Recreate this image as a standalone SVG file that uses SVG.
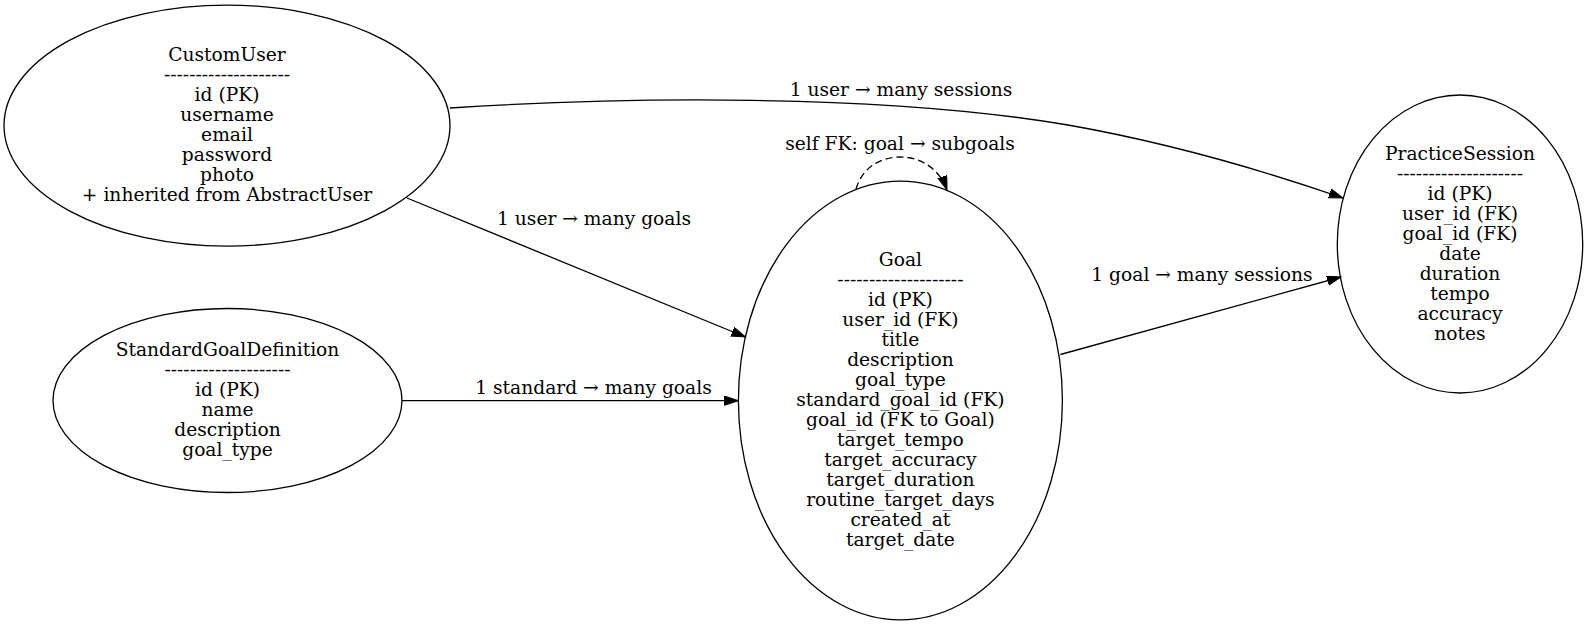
<svg xmlns="http://www.w3.org/2000/svg" width="1588" height="626" viewBox="0 0 1588 626">
<style>
  text { font-family: "DejaVu Serif", "Liberation Serif", serif; font-size: 18.67px; fill: #000; text-anchor: middle; }
  .node ellipse { fill: none; stroke: #000; stroke-width: 1.3; }
  .edge { fill: none; stroke: #000; stroke-width: 1.3; }
  .dashed { stroke-dasharray: 7,4; }
</style>
<defs>
  <marker id="arrow" markerUnits="userSpaceOnUse" markerWidth="16" markerHeight="12" refX="14" refY="4.67" orient="auto">
    <path d="M0,0 L14,4.67 L0,9.33 Z" fill="#000" stroke="#000" stroke-width="1" stroke-dasharray="none"/>
  </marker>
</defs>
<rect width="1588" height="626" fill="#fff"/>

<g id="connectors">
  <path class="edge" d="M450,108 C620,97 880,93 1068,125 C1170,143 1262,170 1343,198" marker-end="url(#arrow)"/>
  <text x="901" y="96">1 user → many sessions</text>

  <path class="edge" d="M407,198 L745.4,337" marker-end="url(#arrow)"/>
  <text x="594" y="225">1 user → many goals</text>

  <path class="edge" d="M402,400.7 L738.4,400.7" marker-end="url(#arrow)"/>
  <text x="593.5" y="394">1 standard → many goals</text>

  <path class="edge" d="M1060.4,354.5 L1341,277" marker-end="url(#arrow)"/>
  <text x="1202" y="281">1 goal → many sessions</text>

  <path class="edge dashed" d="M856,189 C862,168 880,157 900,157 C922,157 940,170 947,190" marker-end="url(#arrow)"/>
  <text x="900" y="150">self FK: goal → subgoals</text>
</g>

<g id="CustomUser" class="node">
  <ellipse cx="227" cy="125.6" rx="223" ry="120.5"/>
  <text x="227" y="61">CustomUser</text>
  <text x="227" y="81">--------------------</text>
  <text x="227" y="101">id (PK)</text>
  <text x="227" y="121">username</text>
  <text x="227" y="141">email</text>
  <text x="227" y="161">password</text>
  <text x="227" y="181">photo</text>
  <text x="227" y="201">+ inherited from AbstractUser</text>
</g>

<g id="StandardGoalDefinition" class="node">
  <ellipse cx="227.5" cy="400.5" rx="174.5" ry="92"/>
  <text x="227.5" y="356">StandardGoalDefinition</text>
  <text x="227.5" y="376">--------------------</text>
  <text x="227.5" y="396">id (PK)</text>
  <text x="227.5" y="416">name</text>
  <text x="227.5" y="436">description</text>
  <text x="227.5" y="456">goal_type</text>
</g>

<g id="Goal" class="node">
  <ellipse cx="900.4" cy="400.5" rx="162" ry="219.4"/>
  <text x="900.4" y="266">Goal</text>
  <text x="900.4" y="286">--------------------</text>
  <text x="900.4" y="306">id (PK)</text>
  <text x="900.4" y="326">user_id (FK)</text>
  <text x="900.4" y="346">title</text>
  <text x="900.4" y="366">description</text>
  <text x="900.4" y="386">goal_type</text>
  <text x="900.4" y="406">standard_goal_id (FK)</text>
  <text x="900.4" y="426">goal_id (FK to Goal)</text>
  <text x="900.4" y="446">target_tempo</text>
  <text x="900.4" y="466">target_accuracy</text>
  <text x="900.4" y="486">target_duration</text>
  <text x="900.4" y="506">routine_target_days</text>
  <text x="900.4" y="526">created_at</text>
  <text x="900.4" y="546">target_date</text>
</g>

<g id="PracticeSession" class="node">
  <ellipse cx="1460" cy="244" rx="122.7" ry="149"/>
  <text x="1460" y="160">PracticeSession</text>
  <text x="1460" y="180">--------------------</text>
  <text x="1460" y="200">id (PK)</text>
  <text x="1460" y="220">user_id (FK)</text>
  <text x="1460" y="240">goal_id (FK)</text>
  <text x="1460" y="260">date</text>
  <text x="1460" y="280">duration</text>
  <text x="1460" y="300">tempo</text>
  <text x="1460" y="320">accuracy</text>
  <text x="1460" y="340">notes</text>
</g>
</svg>
